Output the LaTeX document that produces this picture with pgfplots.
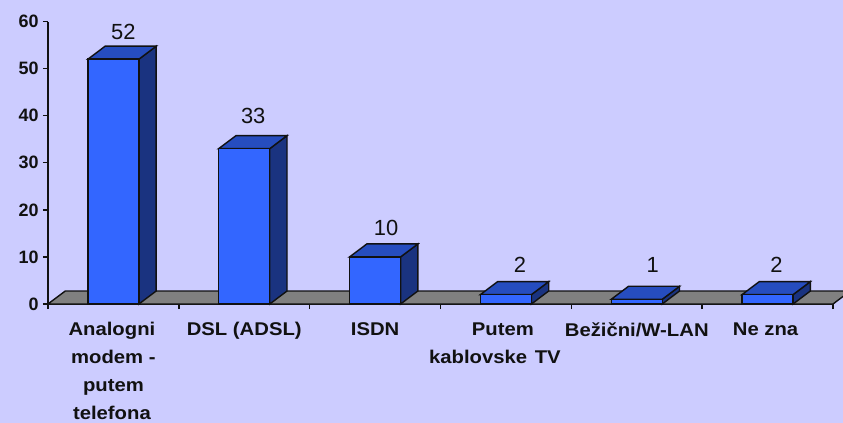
\documentclass[border=0pt]{standalone}
\usepackage{pgfplots}
\pgfplotsset{compat=1.18}
\usepackage{fontspec}
\setmainfont{Liberation Sans}
\newfontfamily\catfont[FakeStretch=1.1]{Liberation Sans}
\definecolor{bg}{HTML}{CCCCFF}
\definecolor{front}{HTML}{3366FF}
\definecolor{topf}{HTML}{264DBF}
\definecolor{sidef}{HTML}{1A3380}
\definecolor{floorc}{HTML}{808080}
\definecolor{ink}{HTML}{111111}
\begin{document}
\begin{tikzpicture}
\path[use as bounding box, fill=bg] (-48bp,-119bp) rectangle (795bp,304bp);
\begin{axis}[
  at={(0,0)}, anchor=south west,
  scale only axis, width=785bp, height=282.5bp,
  xmin=0, xmax=6, ymin=0, ymax=60,
  clip=false,
  axis lines=left,
  axis line style={-, draw=ink, line width=1.4bp},
  tick align=outside,
  major tick length=5bp, minor tick length=5bp,
  tick style={draw=ink, line width=1.4bp},
  ytick={0,10,20,30,40,50,60},
  y tick label style={font=\fontsize{18}{18}\selectfont\bfseries, text=ink, xshift=-1bp},
  /pgf/number format/assume math mode=true,
  xtick={0.5,1.5,2.5,3.5,4.5,5.5},
  minor xtick={0,1,2,3,4,5,6},
  xtick style={draw=none},
  minor x tick style={draw=ink, line width=1.4bp},
  xticklabels={{Analogni\hspace*{3bp}\\modem -\hspace*{3bp}\\putem\hspace*{3bp}\\telefona\hspace*{3bp}},{DSL (ADSL)},{ISDN},{Putem\hspace*{6bp}\\kablovske\ \hspace{2bp}TV\hspace*{22bp}},{Bežični/W-LAN},{Ne zna\hspace*{4bp}}},
  x tick label style={font=\catfont\fontsize{18.5}{28}\selectfont\bfseries, text=ink, align=center, anchor=north, yshift=-10bp},
]
% floor
\addplot[fill=floorc, draw=ink, line width=1.4bp] coordinates {(0,0) (0.132,2.76) (6.132,2.76) (6,0)} -- cycle;
% side faces
\addplot[fill=sidef, draw=ink, line width=1.4bp] coordinates {(0.695,0) (0.827,2.76) (0.827,54.76) (0.695,52)} -- cycle;
\addplot[fill=sidef, draw=ink, line width=1.4bp] coordinates {(1.695,0) (1.827,2.76) (1.827,35.76) (1.695,33)} -- cycle;
\addplot[fill=sidef, draw=ink, line width=1.4bp] coordinates {(2.695,0) (2.827,2.76) (2.827,12.76) (2.695,10)} -- cycle;
\addplot[fill=sidef, draw=ink, line width=1.4bp] coordinates {(3.695,0) (3.827,2.76) (3.827,4.76) (3.695,2)} -- cycle;
\addplot[fill=sidef, draw=ink, line width=1.4bp] coordinates {(4.695,0) (4.827,2.76) (4.827,3.76) (4.695,1)} -- cycle;
\addplot[fill=sidef, draw=ink, line width=1.4bp] coordinates {(5.695,0) (5.827,2.76) (5.827,4.76) (5.695,2)} -- cycle;
% top faces
\addplot[fill=topf, draw=ink, line width=1.4bp] coordinates {(0.305,52) (0.437,54.76) (0.827,54.76) (0.695,52)} -- cycle;
\addplot[fill=topf, draw=ink, line width=1.4bp] coordinates {(1.305,33) (1.437,35.76) (1.827,35.76) (1.695,33)} -- cycle;
\addplot[fill=topf, draw=ink, line width=1.4bp] coordinates {(2.305,10) (2.437,12.76) (2.827,12.76) (2.695,10)} -- cycle;
\addplot[fill=topf, draw=ink, line width=1.4bp] coordinates {(3.305,2) (3.437,4.76) (3.827,4.76) (3.695,2)} -- cycle;
\addplot[fill=topf, draw=ink, line width=1.4bp] coordinates {(4.305,1) (4.437,3.76) (4.827,3.76) (4.695,1)} -- cycle;
\addplot[fill=topf, draw=ink, line width=1.4bp] coordinates {(5.305,2) (5.437,4.76) (5.827,4.76) (5.695,2)} -- cycle;
% front faces with the values
\addplot[ybar, bar width=51bp, fill=front, draw=ink, line width=1.4bp,
  visualization depends on={value \thisrow{dx} \as \dx},
  visualization depends on={value \thisrow{dy} \as \dy},
  nodes near coords,
  every node near coord/.append style={font=\fontsize{22}{22}\selectfont, text=ink, anchor=center, xshift=\dx bp, yshift=\dy bp}]
  table[x=x, y=y] {
x   y  dx dy
0.5 52 10 27
1.5 33 9  33
2.5 10 11 29
3.5 2  14 30
4.5 1  16 34
5.5 2  9  30
};
\end{axis}
\end{tikzpicture}
\end{document}
